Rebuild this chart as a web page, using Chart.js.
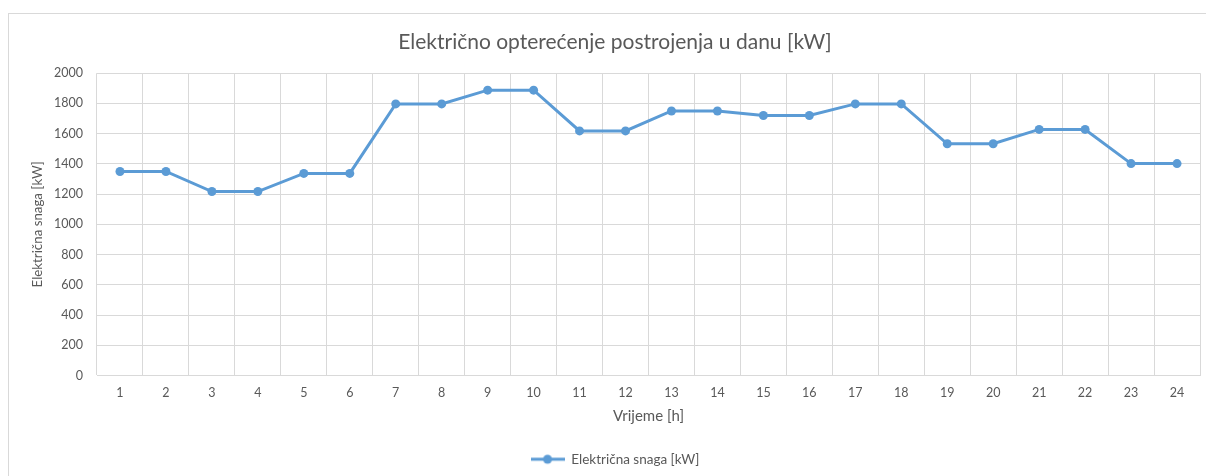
<!DOCTYPE html>
<html>
<head>
<meta charset="utf-8">
<script src="https://cdn.jsdelivr.net/npm/chart.js@4"></script>
<style>
  html, body { margin: 0; padding: 0; background: #fff; }
  #frame { position: absolute; left: 8px; top: 13px; width: 1300px; height: 500px;
           border: 1px solid #d9d9d9; box-sizing: border-box; }
  #wrap { position: absolute; left: 0; top: 0; width: 1206px; height: 476px; }
</style>
</head>
<body>
<div id="frame"></div>
<div id="wrap"><canvas id="loadChart"></canvas></div>
<script>
const hours = ["1","2","3","4","5","6","7","8","9","10","11","12","13","14","15","16","17","18","19","20","21","22","23","24"];
const power = [1350, 1350, 1217, 1217, 1337, 1337, 1797, 1797, 1888, 1888, 1618, 1618,
               1750, 1750, 1720, 1720, 1797, 1797, 1533, 1533, 1628, 1628, 1402, 1402];
const yTicks = [0, 200, 400, 600, 800, 1000, 1200, 1400, 1600, 1800, 2000];

const blue = "#5b9bd5";
const textGray = "#595959";
const gridGray = "#d9d9d9";
const font = "Lato, 'Open Sans', sans-serif";

// legend marker: short line with a dot in the middle
function legendMarker() {
    const c = document.createElement("canvas");
    c.width = 34; c.height = 12;
    const g = c.getContext("2d");
    g.strokeStyle = blue;
    g.lineWidth = 3;
    g.beginPath(); g.moveTo(0, 6); g.lineTo(34, 6); g.stroke();
    g.fillStyle = blue;
    g.beginPath(); g.arc(17, 6, 4.5, 0, Math.PI * 2); g.fill();
    return c;
}
const marker = legendMarker();

const ctx = document.getElementById("loadChart").getContext("2d");
new Chart(ctx, {
    type: "line",
    data: {
        labels: hours,
        datasets: [{
            label: "Električna snaga [kW]",
            data: power,
            borderColor: blue,
            backgroundColor: blue,
            borderWidth: 3,
            pointRadius: 4.5,
            pointHoverRadius: 4.5,
            pointBorderWidth: 0,
            tension: 0
        }]
    },
    options: {
        responsive: true,
        maintainAspectRatio: false,
        animation: false,
        layout: { padding: { left: 30, right: 6, top: 18, bottom: 0 } },
        plugins: {
            title: {
                display: true,
                text: "Električno opterećenje postrojenja u danu [kW]",
                color: textGray,
                font: { family: font, size: 21, weight: "normal" },
                padding: { top: 12, bottom: 18 }
            },
            legend: {
                position: "bottom",
                labels: {
                    color: textGray,
                    font: { family: font, size: 13.5 },
                    usePointStyle: true,
                    pointStyleWidth: 34,
                    boxHeight: 12,
                    padding: 10,
                    generateLabels: (chart) => Chart.defaults.plugins.legend.labels.generateLabels(chart)
                        .map(l => Object.assign(l, { pointStyle: marker }))
                }
            },
            tooltip: { enabled: false }
        },
        scales: {
            x: {
                offset: true,
                grid: { color: gridGray, offset: true, drawTicks: false },
                border: { color: gridGray },
                ticks: { color: textGray, font: { family: font, size: 12.5 }, padding: 10 },
                title: {
                    display: true,
                    text: "Vrijeme [h]",
                    color: textGray,
                    font: { family: font, size: 15 },
                    padding: { top: 4, bottom: 17 }
                },
                afterFit: (axis) => { axis.height = 67; }
            },
            y: {
                min: 0,
                max: 2000,
                afterBuildTicks: (axis) => { axis.ticks = yTicks.map(v => ({ value: v })); },
                grid: { color: gridGray, drawTicks: false },
                border: { display: false },
                ticks: {
                    color: textGray,
                    font: { family: font, size: 12.5 },
                    padding: 14,
                    callback: (v) => String(v)
                },
                title: {
                    display: true,
                    text: "Električna snaga [kW]",
                    color: textGray,
                    font: { family: font, size: 13.3 },
                    padding: { top: 0, bottom: 8 }
                },
                afterFit: (axis) => { axis.width = 67; }
            }
        }
    }
});
</script>
</body>
</html>
